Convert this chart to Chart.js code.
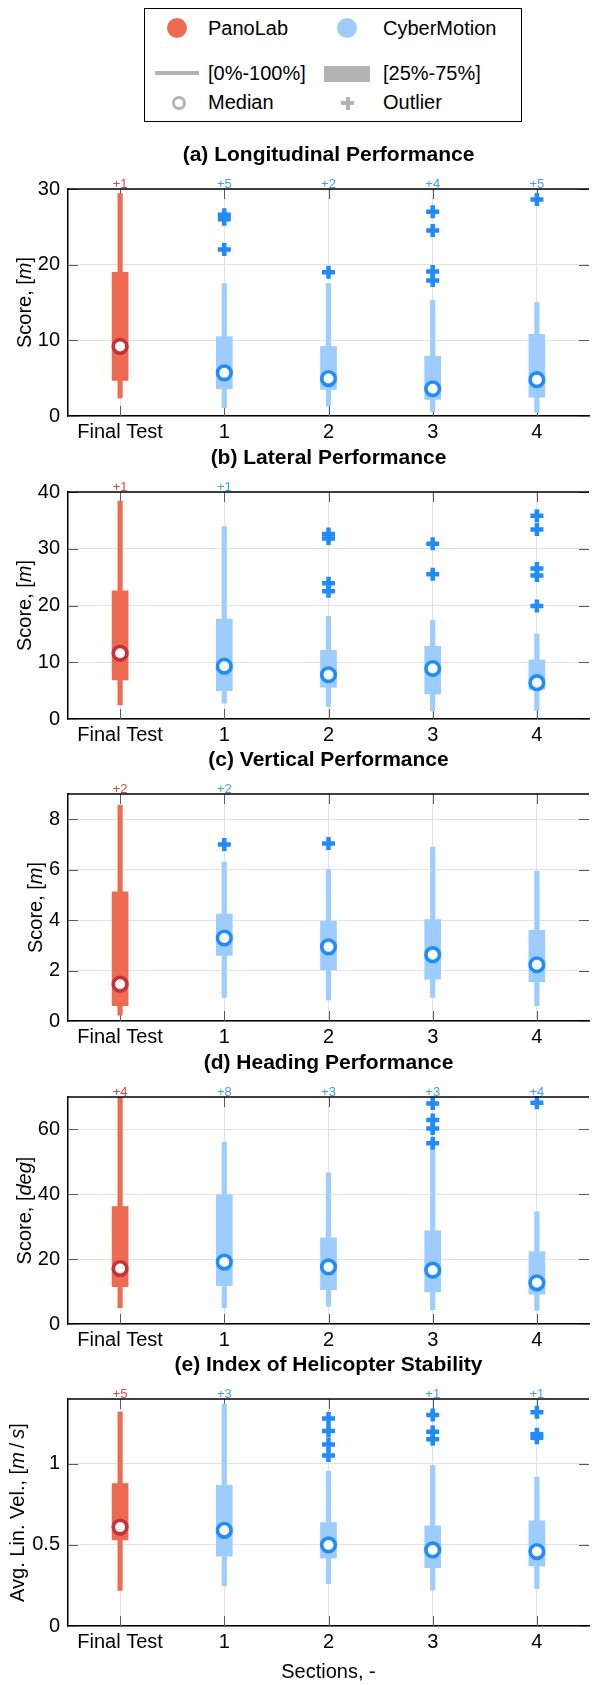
<!DOCTYPE html>
<html>
<head>
<meta charset="utf-8">
<script src="https://cdn.jsdelivr.net/npm/chart.js@4.4.1/dist/chart.umd.min.js"></script>
<style>
  html, body { margin: 0; padding: 0; background: #fff; overflow: hidden; width: 596px; height: 1685px; }
  body { position: relative; font-family: "Liberation Sans", Arial, sans-serif; color: #000; }
  canvas { position: absolute; left: 0; }
  .lg { position: absolute; font-size: 20px; line-height: 24px; white-space: nowrap; }
  .legend-box { position: absolute; left: 144px; top: 8px; width: 378px; height: 114px; border: 1.5px solid #000; box-sizing: border-box; }
</style>
</head>
<body>
<div class="legend-box"></div>
<div style="position:absolute;left:167px;top:18px;width:20px;height:20px;border-radius:50%;background:#EE6A50"></div>
<div class="lg" style="left:208px;top:16px">PanoLab</div>
<div style="position:absolute;left:337px;top:18px;width:20px;height:20px;border-radius:50%;background:#9DCCFF"></div>
<div class="lg" style="left:383px;top:16px">CyberMotion</div>
<div style="position:absolute;left:155px;top:71px;width:44px;height:4px;background:#B3B3B3"></div>
<div class="lg" style="left:208px;top:61px">[0%-100%]</div>
<div style="position:absolute;left:324px;top:66px;width:46px;height:16px;background:#B3B3B3"></div>
<div class="lg" style="left:383px;top:61px">[25%-75%]</div>
<div style="position:absolute;left:172px;top:96px;width:14px;height:14px;border-radius:50%;border:3.5px solid #B3B3B3;box-sizing:border-box"></div>
<div class="lg" style="left:208px;top:90px">Median</div>
<div style="position:absolute;left:341px;top:101px;width:13px;height:4px;background:#B3B3B3"></div>
<div style="position:absolute;left:345.5px;top:96.5px;width:4px;height:13px;background:#B3B3B3"></div>
<div class="lg" style="left:383px;top:90px">Outlier</div>

<canvas id="c0" width="600" height="347"></canvas>
<canvas id="c1" width="600" height="347"></canvas>
<canvas id="c2" width="600" height="347"></canvas>
<canvas id="c3" width="600" height="347"></canvas>
<canvas id="c4" width="600" height="347"></canvas>

<script>
// ---- data ----
const categories = ['Final Test', '1', '2', '3', '4'];

// (a) longitudinal
const lonMin = [2.4, 1.1, 1.3, 0.6, 0.5];
const lonQ1 = [4.7, 3.6, 3.5, 2.2, 2.5];
const lonMedian = [9.2, 5.7, 4.95, 3.6, 4.8];
const lonQ3 = [19.0, 10.5, 9.2, 7.9, 10.8];
const lonMax = [29.4, 17.5, 17.5, 15.3, 15.0];
const lonOutliers = [[], [26.0, 26.6, 22.0], [19.0], [27.0, 24.5, 19.1, 17.9], [28.6]];
const lonExtra = [1, 5, 2, 4, 5];

// (b) lateral
const latMin = [2.5, 2.8, 2.2, 1.4, 1.5];
const latQ1 = [6.9, 5.0, 5.6, 4.4, 5.2];
const latMedian = [11.6, 9.3, 7.8, 8.9, 6.4];
const latQ3 = [22.6, 17.6, 12.1, 12.8, 10.4];
const latMax = [38.4, 33.9, 18.1, 17.4, 15.0];
const latOutliers = [[], [], [32.6, 31.8, 23.9, 22.5], [30.9, 25.5], [35.8, 33.4, 26.5, 25.3, 19.9]];
const latExtra = [1, 1, 0, 0, 0];

// (c) vertical
const verMin = [0.23, 0.93, 0.84, 0.93, 0.61];
const verQ1 = [0.61, 2.6, 2.03, 1.66, 1.56];
const verMedian = [1.46, 3.29, 2.94, 2.63, 2.23];
const verQ3 = [5.12, 4.24, 3.95, 4.02, 3.59];
const verMax = [8.55, 6.3, 6.0, 6.9, 5.94];
const verOutliers = [[], [7.0], [7.04], [], []];
const verExtra = [2, 2, 0, 0, 0];

// (d) heading
const hdgMin = [5.0, 5.0, 5.45, 4.4, 4.2];
const hdgQ1 = [11.5, 11.8, 10.6, 9.9, 9.2];
const hdgMedian = [17.1, 19.1, 17.6, 16.6, 12.7];
const hdgQ3 = [36.2, 39.9, 26.6, 28.7, 22.3];
const hdgMax = [70, 56.0, 46.6, 54.5, 34.6];
const hdgOutliers = [[], [], [], [68.0, 62.9, 60.3, 55.7], [68.2]];
const hdgExtra = [4, 8, 3, 3, 4];

// (e) stability index
const stbMin = [0.22, 0.248, 0.262, 0.221, 0.231];
const stbQ1 = [0.531, 0.43, 0.419, 0.36, 0.37];
const stbMedian = [0.61, 0.59, 0.5, 0.469, 0.459];
const stbQ3 = [0.878, 0.868, 0.638, 0.618, 0.649];
const stbMax = [1.32, 1.368, 0.955, 0.99, 0.919];
const stbOutliers = [[], [], [1.279, 1.202, 1.12, 1.052], [1.302, 1.198, 1.151], [1.318, 1.182, 1.161]];
const stbExtra = [5, 3, 0, 1, 1];

const yTicksA = [0, 10, 20, 30];
const yTicksB = [0, 10, 20, 30, 40];
const yTicksC = [0, 2, 4, 6, 8];
const yTicksD = [0, 20, 40, 60];
const yTicksE = [0, 0.5, 1];

// ---- style ----
const FONT = '"Liberation Sans", Arial, sans-serif';
const PANO = '#EE6A50', PANO_RING = '#CC2E3A', PANO_TXT = '#D44A4A';
const CYBER = '#9DCCFF', CYBER_DARK = '#1E8CFF', CYBER_TXT = '#3D9BFF';
const fills = categories.map((c, i) => i === 0 ? PANO : CYBER);
const rings = categories.map((c, i) => i === 0 ? PANO_RING : CYBER_DARK);

Chart.defaults.font.family = FONT;
Chart.defaults.font.size = 20;
Chart.defaults.color = '#000';

const panels = [
  {title: '(a) Longitudinal Performance', ylab: [['Score, [', 0], ['m', 1], [']', 0]], ylabX: 25,
   min: lonMin, q1: lonQ1, med: lonMedian, q3: lonQ3, max: lonMax, out: lonOutliers, extra: lonExtra, ymax: 30, ticks: yTicksA, top: 189},
  {title: '(b) Lateral Performance', ylab: [['Score, [', 0], ['m', 1], [']', 0]], ylabX: 25,
   min: latMin, q1: latQ1, med: latMedian, q3: latQ3, max: latMax, out: latOutliers, extra: latExtra, ymax: 40, ticks: yTicksB, top: 492},
  {title: '(c) Vertical Performance', ylab: [['Score, [', 0], ['m', 1], [']', 0]], ylabX: 36.5,
   min: verMin, q1: verQ1, med: verMedian, q3: verQ3, max: verMax, out: verOutliers, extra: verExtra, ymax: 9, ticks: yTicksC, top: 794},
  {title: '(d) Heading Performance', ylab: [['Score, [', 0], ['deg', 1], [']', 0]], ylabX: 25,
   min: hdgMin, q1: hdgQ1, med: hdgMedian, q3: hdgQ3, max: hdgMax, out: hdgOutliers, extra: hdgExtra, ymax: 70, ticks: yTicksD, top: 1097},
  {title: '(e) Index of Helicopter Stability', ylab: [['Avg. Lin. Vel., [', 0], ['m', 1], ['\u2009/\u2009', 0], ['s', 1], [']', 0]], ylabX: 18,
   min: stbMin, q1: stbQ1, med: stbMedian, q3: stbQ3, max: stbMax, out: stbOutliers, extra: stbExtra, ymax: 1.4, ticks: yTicksE, top: 1399, xlab: 'Sections, -'}
];

const PAD_TOP = 60;

function drawRich(ctx, parts, cx, cy, rotate) {
  ctx.save();
  ctx.translate(cx, cy);
  if (rotate) ctx.rotate(-Math.PI / 2);
  ctx.textBaseline = 'middle';
  ctx.textAlign = 'left';
  const fonts = parts.map(p => (p[1] ? 'italic ' : '') + '20px ' + FONT);
  let total = 0;
  const widths = parts.map((p, i) => { ctx.font = fonts[i]; const w = ctx.measureText(p[0]).width; total += w; return w; });
  let x = -total / 2;
  parts.forEach((p, i) => { ctx.font = fonts[i]; ctx.fillStyle = '#000'; ctx.fillText(p[0], x, 0); x += widths[i]; });
  ctx.restore();
}

const decor = {
  id: 'decor',
  beforeDatasetsDraw(chart) {
    const {ctx, chartArea: a, scales: {x, y}} = chart;
    ctx.save();
    ctx.strokeStyle = '#5a5a5a';
    ctx.lineWidth = 1;
    y.ticks.forEach(t => {
      const py = Math.round(y.getPixelForValue(t.value)) + 0.5;
      ctx.beginPath();
      ctx.moveTo(a.left, py); ctx.lineTo(a.left + 10, py);
      ctx.moveTo(a.right - 10, py); ctx.lineTo(a.right, py);
      ctx.stroke();
    });
    categories.forEach((c, i) => {
      const px = Math.round(x.getPixelForValue(i)) + 0.5;
      ctx.beginPath();
      ctx.moveTo(px, a.top); ctx.lineTo(px, a.top + 10);
      ctx.moveTo(px, a.bottom); ctx.lineTo(px, a.bottom - 10);
      ctx.stroke();
    });
    ctx.restore();
  },
  afterDraw(chart, args, opts) {
    const p = opts.panel;
    const {ctx, chartArea: a, scales: {x}} = chart;
    ctx.save();
    // top frame line
    ctx.strokeStyle = '#000';
    ctx.lineWidth = 1.5;
    ctx.beginPath(); ctx.moveTo(a.left, a.top); ctx.lineTo(a.right, a.top); ctx.stroke();
    // outlier counts above the axis
    ctx.font = '13px ' + FONT;
    ctx.textAlign = 'center';
    ctx.textBaseline = 'alphabetic';
    p.extra.forEach((n, i) => {
      if (!n) return;
      ctx.fillStyle = i === 0 ? PANO_TXT : CYBER_TXT;
      ctx.fillText('+' + n, x.getPixelForValue(i), a.top - 1.5);
    });
    // panel title
    ctx.font = 'bold 21px ' + FONT;
    ctx.fillStyle = '#000';
    ctx.textBaseline = 'middle';
    ctx.fillText(p.title, (a.left + a.right) / 2, a.top - 34);
    // y label
    drawRich(ctx, p.ylab, p.ylabX, (a.top + a.bottom) / 2, true);
    if (p.xlab) {
      ctx.font = '20px ' + FONT;
      ctx.textAlign = 'center';
      ctx.fillText(p.xlab, (a.left + a.right) / 2, a.bottom + 46);
    }
    ctx.restore();
  }
};

function makePanel(canvasEl, p) {
  canvasEl.style.top = (p.top - PAD_TOP) + 'px';
  const ctx = canvasEl.getContext('2d');
  const outPts = [];
  p.out.forEach((arr, i) => arr.forEach(v => outPts.push({x: categories[i], y: v})));
  return new Chart(ctx, {
    type: 'bar',
    data: {
      labels: categories,
      datasets: [
        {type: 'line', data: outPts, showLine: false, pointStyle: 'cross', pointRadius: 6.5,
         pointBorderWidth: 4.5, pointBorderColor: CYBER_DARK, pointBackgroundColor: CYBER_DARK, order: 0, clip: false},
        {type: 'line', data: p.med, showLine: false, pointStyle: 'circle', pointRadius: 6.8,
         pointBorderWidth: 3.6, pointBorderColor: rings, pointBackgroundColor: '#fff', order: 1, clip: false},
        {type: 'bar', data: p.q1.map((v, i) => [v, p.q3[i]]), backgroundColor: fills,
         barThickness: 16, grouped: false, order: 2},
        {type: 'bar', data: p.min.map((v, i) => [v, p.max[i]]), backgroundColor: fills,
         barThickness: 4.5, grouped: false, order: 3}
      ]
    },
    options: {
      responsive: false,
      animation: false,
      events: [],
      layout: {padding: {top: PAD_TOP, left: 0, right: 2, bottom: 30}},
      plugins: {legend: {display: false}, tooltip: {enabled: false}, decor: {panel: p}},
      scales: {
        x: {
          offset: true,
          grid: {offset: false, color: '#E2E2E2', lineWidth: 1, drawTicks: false},
          border: {color: '#000', width: 1.5},
          ticks: {padding: 4, color: '#000', font: {size: 20}, maxRotation: 0, autoSkip: false},
          afterFit(s) { s.height = 30; }
        },
        y: {
          min: 0,
          max: p.ymax,
          grid: {color: '#E2E2E2', lineWidth: 1, drawTicks: false},
          border: {color: '#000', width: 1.5},
          ticks: {padding: 8, color: '#000', font: {size: 20}, callback: v => String(v)},
          afterBuildTicks(s) { s.ticks = p.ticks.map(v => ({value: v})); },
          afterFit(s) { s.width = 68; }
        }
      }
    },
    plugins: [decor]
  });
}

panels.forEach((p, i) => makePanel(document.getElementById('c' + i), p));
</script>
</body>
</html>
